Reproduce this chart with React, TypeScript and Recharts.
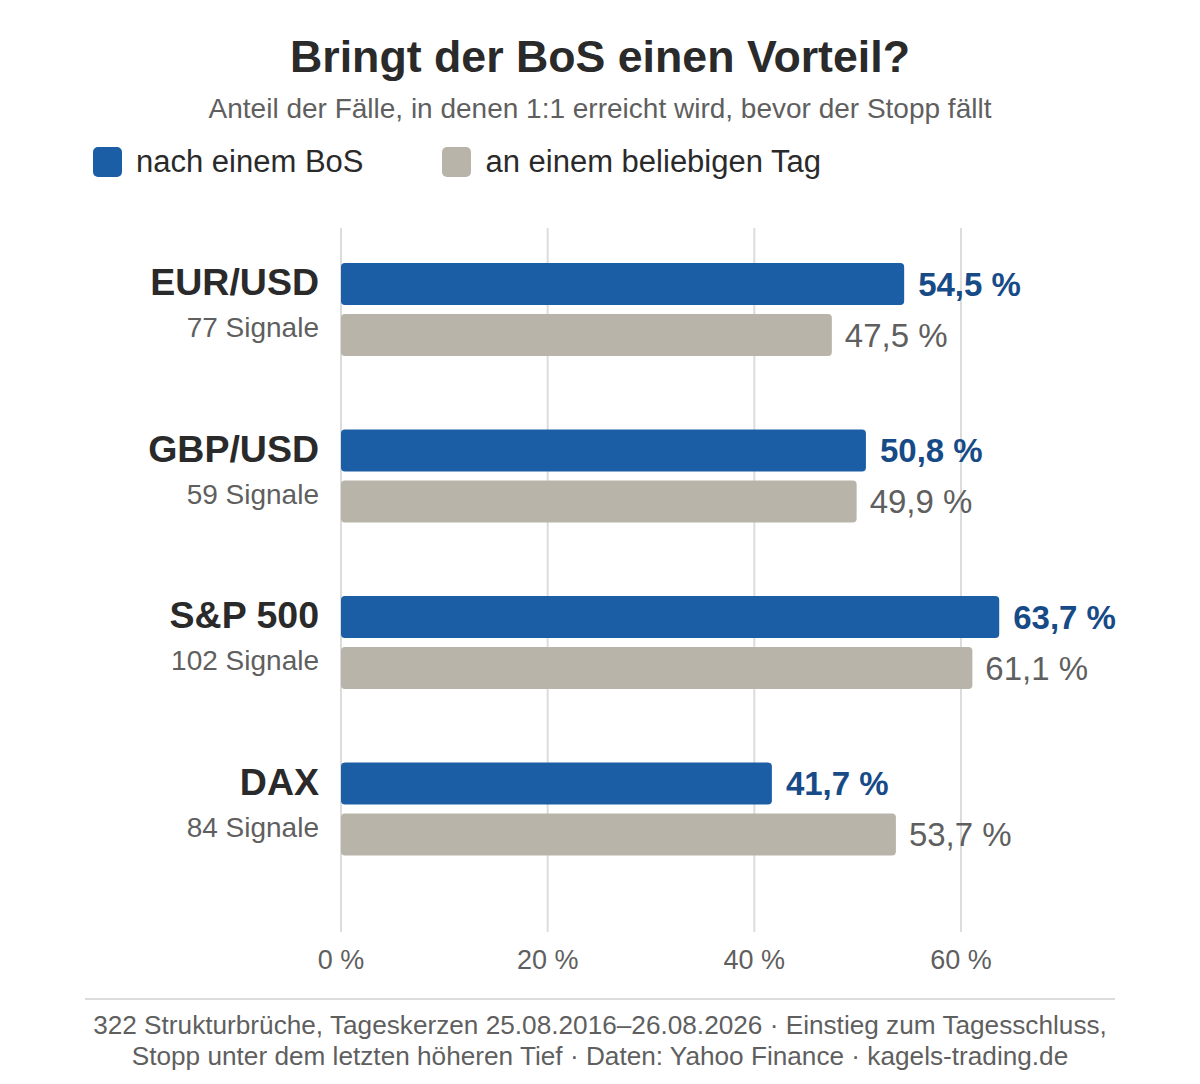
import React from "react";
import {
  BarChart,
  Bar,
  XAxis,
  YAxis,
  CartesianGrid,
  LabelList,
} from "recharts";

const markets = ["EUR/USD", "GBP/USD", "S&P 500", "DAX"];
const signals = [77, 59, 102, 84];
const afterBos = [54.5, 50.8, 63.7, 41.7];
const anyDay = [47.5, 49.9, 61.1, 53.7];
const xTicks = [0, 20, 40, 60];
const xMax = 75;

const BLUE = "#1b5ea6";
const BLUE_TEXT = "#174b87";
const GREY = "#b8b4aa";
const FONT = "'Liberation Sans', Arial, Helvetica, sans-serif";

const data = markets.map((m, i) => ({
  market: m,
  signals: signals[i],
  bos: afterBos[i],
  any: anyDay[i],
}));

const fmt = (v: number) => `${v.toFixed(1).replace(".", ",")} %`;

// grid lines only at the labelled ticks, not at the domain end
const gridX = ({ xAxis, offset }: any) =>
  xTicks.map((t) => {
    const s = xAxis?.scale;
    if (typeof s === "function") return s(t);
    if (s && typeof s.map === "function") return s.map(t);
    return offset.left + (t / xMax) * offset.width;
  });

const MarketTick = (props: any) => {
  const { x, y, payload } = props;
  const row = data.find((d) => d.market === payload.value);
  return (
    <g>
      <text
        x={x - 4}
        y={y - 14}
        textAnchor="end"
        fontFamily={FONT}
        fontSize={37.5}
        fontWeight="bold"
        fill="#2a2a2a"
      >
        {payload.value}
      </text>
      <text
        x={x - 4}
        y={y + 28}
        textAnchor="end"
        fontFamily={FONT}
        fontSize={28}
        fill="#5f5f5f"
      >
        {row ? `${row.signals} Signale` : ""}
      </text>
    </g>
  );
};

const swatch = (color: string) => (
  <span style={{ display: "inline-block", width: 29, height: 30, borderRadius: 5, background: color, marginRight: 14 }} />
);

export default function App() {
  return (
    <div style={{ position: "absolute", left: 0, top: 0, width: 1200, height: 1084, background: "#fff", fontFamily: FONT }}>
      <div style={{ position: "absolute", top: 32, width: 1200, textAlign: "center", fontSize: 44.7, fontWeight: "bold", color: "#2a2a2a" }}>
        Bringt der BoS einen Vorteil?
      </div>
      <div style={{ position: "absolute", top: 93, width: 1200, textAlign: "center", fontSize: 28, color: "#5f5f5f" }}>
        Anteil der Fälle, in denen 1:1 erreicht wird, bevor der Stopp fällt
      </div>
      <div style={{ position: "absolute", top: 144, left: 93, display: "flex", alignItems: "center", fontSize: 31, color: "#2a2a2a" }}>
        {swatch(BLUE)}
        <span style={{ marginRight: 79 }}>nach einem BoS</span>
        {swatch(GREY)}
        <span>an einem beliebigen Tag</span>
      </div>
      <BarChart
        width={1200}
        height={1084}
        data={data}
        layout="vertical"
        margin={{ top: 228, right: 84, bottom: 102, left: 11 }}
        barSize={42}
        barGap={9}
        barCategoryGap={37}
      >
        <CartesianGrid
          horizontal={false}
          stroke="#dcdcdc"
          strokeWidth={2}
          verticalCoordinatesGenerator={gridX}
        />
        <XAxis
          type="number"
          domain={[0, xMax]}
          ticks={xTicks}
          tickFormatter={(v: number) => `${v} %`}
          axisLine={false}
          tickLine={false}
          tickMargin={12}
          height={50}
          tick={{ fontFamily: FONT, fontSize: 27, fill: "#5f5f5f" }}
        />
        <YAxis
          type="category"
          dataKey="market"
          width={330}
          axisLine={false}
          tickLine={false}
          padding={{ top: -2, bottom: 40 }}
          tick={<MarketTick />}
          tickMargin={12}
        />
        <Bar dataKey="bos" fill={BLUE} radius={4} isAnimationActive={false}>
          <LabelList
            dataKey="bos"
            position="right"
            offset={14}
            formatter={(v: any) => fmt(Number(v))}
            style={{ fontFamily: FONT, fontSize: 33, fontWeight: "bold", fill: BLUE_TEXT }}
          />
        </Bar>
        <Bar dataKey="any" fill={GREY} radius={4} isAnimationActive={false}>
          <LabelList
            dataKey="any"
            position="right"
            offset={13}
            formatter={(v: any) => fmt(Number(v))}
            style={{ fontFamily: FONT, fontSize: 33, fill: "#5f5f5f" }}
          />
        </Bar>
      </BarChart>
      <div style={{ position: "absolute", top: 998, left: 85, width: 1030, height: 2, background: "#dcdcdc" }} />
      <div style={{ position: "absolute", top: 1010, width: 1200, textAlign: "center", fontSize: 26.2, lineHeight: "31px", color: "#5f5f5f" }}>
        322 Strukturbrüche, Tageskerzen 25.08.2016–26.08.2026 · Einstieg zum Tagesschluss,
        <br />
        Stopp unter dem letzten höheren Tief · Daten: Yahoo Finance · kagels-trading.de
      </div>
    </div>
  );
}
